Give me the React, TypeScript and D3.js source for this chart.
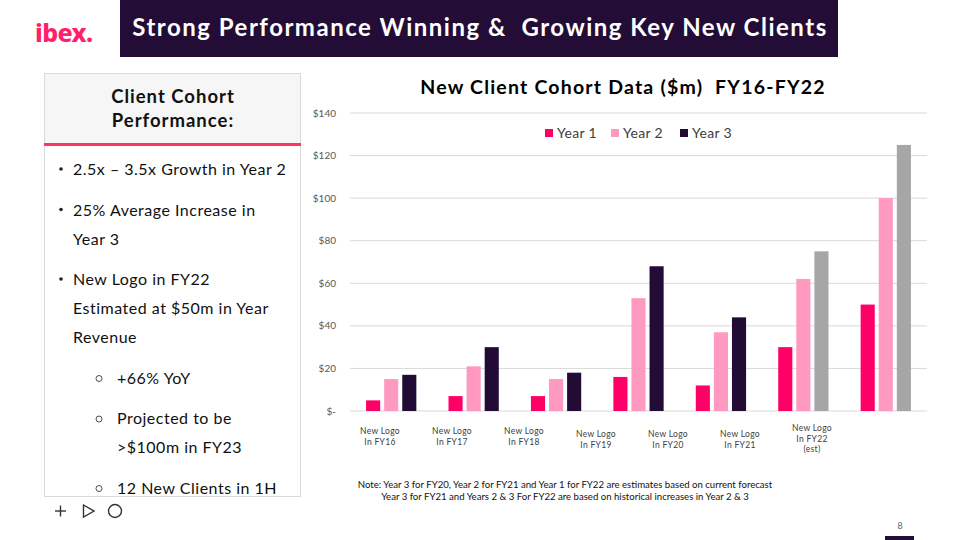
import React from "react";
import * as d3 from "d3";

const categories = ["FY16", "FY17", "FY18", "FY19", "FY20", "FY21", "FY22"];
const categoryLabels = [
  ["New Logo", "In FY16"],
  ["New Logo", "In FY17"],
  ["New Logo", "In FY18"],
  ["New Logo", "In FY19"],
  ["New Logo", "In FY20"],
  ["New Logo", "In FY21"],
  ["New Logo", "In FY22", "(est)"],
];
const seriesNames = ["Year 1", "Year 2", "Year 3"];
const year1 = [5, 7, 7, 16, 12, 30, 50];
const year2 = [15, 21, 15, 53, 37, 62, 100];
const year3 = [17, 30, 18, 68, 44, 75, 125];
const year3Estimated = [false, false, false, false, false, true, true];
const yTicks = [0, 20, 40, 60, 80, 100, 120, 140];
const bullets = [
  { level: 0, lines: ["2.5x \u2013 3.5x Growth in Year 2"] },
  { level: 0, lines: ["25% Average Increase in", "Year 3"] },
  { level: 0, lines: ["New Logo in FY22", "Estimated at $50m in Year", "Revenue"] },
  { level: 1, lines: ["+66% YoY"] },
  { level: 1, lines: ["Projected to be", ">$100m in FY23"] },
  { level: 1, lines: ["12 New Clients in 1H"] },
];
const noteLines = [
  "Note: Year 3 for FY20, Year 2 for FY21 and Year 1 for FY22 are estimates based on current forecast",
  "Year 3 for FY21 and Years 2 & 3 For FY22 are based on historical increases in Year 2 & 3",
];

const COLORS = ["#fe0066", "#ff99c0", "#220c35"];
const ESTIMATE_COLOR = "#a6a6a6";
const FONT = "Lato, 'Open Sans', sans-serif";

export default function App() {
  const W = 960;
  const H = 540;
  const plot = { left: 350, right: 927, top: 113, bottom: 411 };

  const x = d3.scaleBand<string>().domain(categories).range([plot.left, plot.right]).paddingInner(0.39).paddingOuter(0.195);
  const xs = d3.scaleBand<string>().domain(seriesNames).range([0, x.bandwidth()]).paddingInner(0.22);
  const y = d3.scaleLinear().domain([0, 140]).range([plot.bottom, plot.top]);
  const labelX = d3.scalePoint<string>().domain(categories).range([380, 812]);

  const series = [year1, year2, year3];

  const lineH = 29;
  const bulletGap = 11.5;
  let cy = 169;
  const bulletRows: { level: number; lines: string[]; y: number }[] = [];
  bullets.forEach((b) => {
    bulletRows.push({ ...b, y: cy });
    cy += b.lines.length * lineH + bulletGap;
  });

  return (
    <svg width={W} height={H} style={{ position: "absolute", left: 0, top: 0, background: "#fff", whiteSpace: "pre" }} fontFamily={FONT}>
      <rect x={0} y={0} width={W} height={H} fill="#fff" />
      {/* logo */}
      <text x={35} y={42} fill="#ff1f6a" fontSize={25} fontWeight={800} fontFamily="'Noto Sans', sans-serif" letterSpacing={-0.6}>ibex.</text>
      {/* title bar */}
      <rect x={120} y={0} width={718} height={57} fill="#230d36" />
      <text x={480} y={36} textAnchor="middle" fill="#fff" fontSize={24} fontWeight={700} letterSpacing={1.5} style={{ whiteSpace: "pre" }}>
        {"Strong Performance Winning &  Growing Key New Clients"}
      </text>

      {/* left panel */}
      <rect x={44.5} y={73.5} width={256} height={423} fill="#fff" stroke="#d9d9d9" />
      <rect x={45} y={74} width={255} height={70} fill="#f6f6f6" />
      <rect x={44} y={143} width={257} height={3} fill="#ff3366" />
      <text x={173} y={103} textAnchor="middle" fontSize={18.5} fontWeight={700} fill="#111" letterSpacing={1}>Client Cohort</text>
      <text x={173} y={127} textAnchor="middle" fontSize={18.5} fontWeight={700} fill="#111" letterSpacing={1}>Performance:</text>
      {bulletRows.map((b, i) => (
        <g key={i}>
          {b.level === 0 ? (
            <circle cx={61} cy={b.y} r={1.8} fill="#222" />
          ) : (
            <circle cx={99} cy={b.y + 1} r={3} fill="none" stroke="#222" strokeWidth={0.8} />
          )}
          {b.lines.map((l, j) => (
            <text key={j} x={b.level === 0 ? 73 : 117} y={b.y + j * lineH + 6} fontSize={16} fill="#111" letterSpacing={0.5}>{l}</text>
          ))}
        </g>
      ))}

      {/* bottom icons */}
      <g stroke="#333" strokeWidth={1.4} fill="none">
        <line x1={55} y1={511} x2={66} y2={511} />
        <line x1={60.5} y1={505.5} x2={60.5} y2={516.5} />
        <path d="M83.5,505 L94,511 L83.5,517 Z" />
        <circle cx={115} cy={511} r={6.5} />
      </g>

      {/* chart title */}
      <text x={623} y={94} textAnchor="middle" fontSize={19.5} fontWeight={700} fill="#000" letterSpacing={1.2} style={{ whiteSpace: "pre" }}>
        {"New Client Cohort Data ($m)  FY16-FY22"}
      </text>

      {/* gridlines and y ticks */}
      {yTicks.map((t) => (
        <g key={t}>
          <line x1={plot.left} x2={plot.right} y1={y(t)} y2={y(t)} stroke="#d9d9d9" strokeWidth={1} />
          <text x={336} y={y(t) + 3.5} textAnchor="end" fontSize={10} fill="#595959">
            {t === 0 ? "$-" : `$${t}`}
          </text>
        </g>
      ))}

      {/* bars */}
      {categories.map((c, i) => (
        <g key={c}>
          {series.map((s, k) => {
            const color = k === 2 && year3Estimated[i] ? ESTIMATE_COLOR : COLORS[k];
            return (
              <rect
                key={k}
                x={(x(c) as number) + (xs(seriesNames[k]) as number)}
                y={y(s[i])}
                width={xs.bandwidth()}
                height={y(0) - y(s[i])}
                fill={color}
              />
            );
          })}
        </g>
      ))}

      {/* legend */}
      {seriesNames.map((n, k) => {
        const lx = [545, 611, 680][k];
        return (
          <g key={n}>
            <rect x={lx} y={129} width={8} height={8} fill={COLORS[k]} />
            <text x={lx + 12} y={138} fontSize={14} fill="#404040" letterSpacing={0.3}>{n}</text>
          </g>
        );
      })}

      {/* x labels */}
      {categories.map((c, i) => {
        const lines = categoryLabels[i];
        const y0 = lines.length === 3 ? 431 : [434, 434, 434, 437, 437, 437][i];
        return (
          <text key={c} textAnchor="middle" fontSize={8.5} fill="#404040" letterSpacing={0.3}>
            {lines.map((l, j) => (
              <tspan key={j} x={labelX(c)} y={y0 + j * 10.5}>{l}</tspan>
            ))}
          </text>
        );
      })}

      {/* note */}
      {noteLines.map((l, j) => (
        <text key={j} x={565} y={488 + j * 12} textAnchor="middle" fontSize={9.6} fill="#111">{l}</text>
      ))}

      {/* page number */}
      <text x={900} y={529} textAnchor="middle" fontSize={9} fill="#666">8</text>
      <rect x={885} y={536} width={29} height={4} fill="#230d36" />
    </svg>
  );
}
